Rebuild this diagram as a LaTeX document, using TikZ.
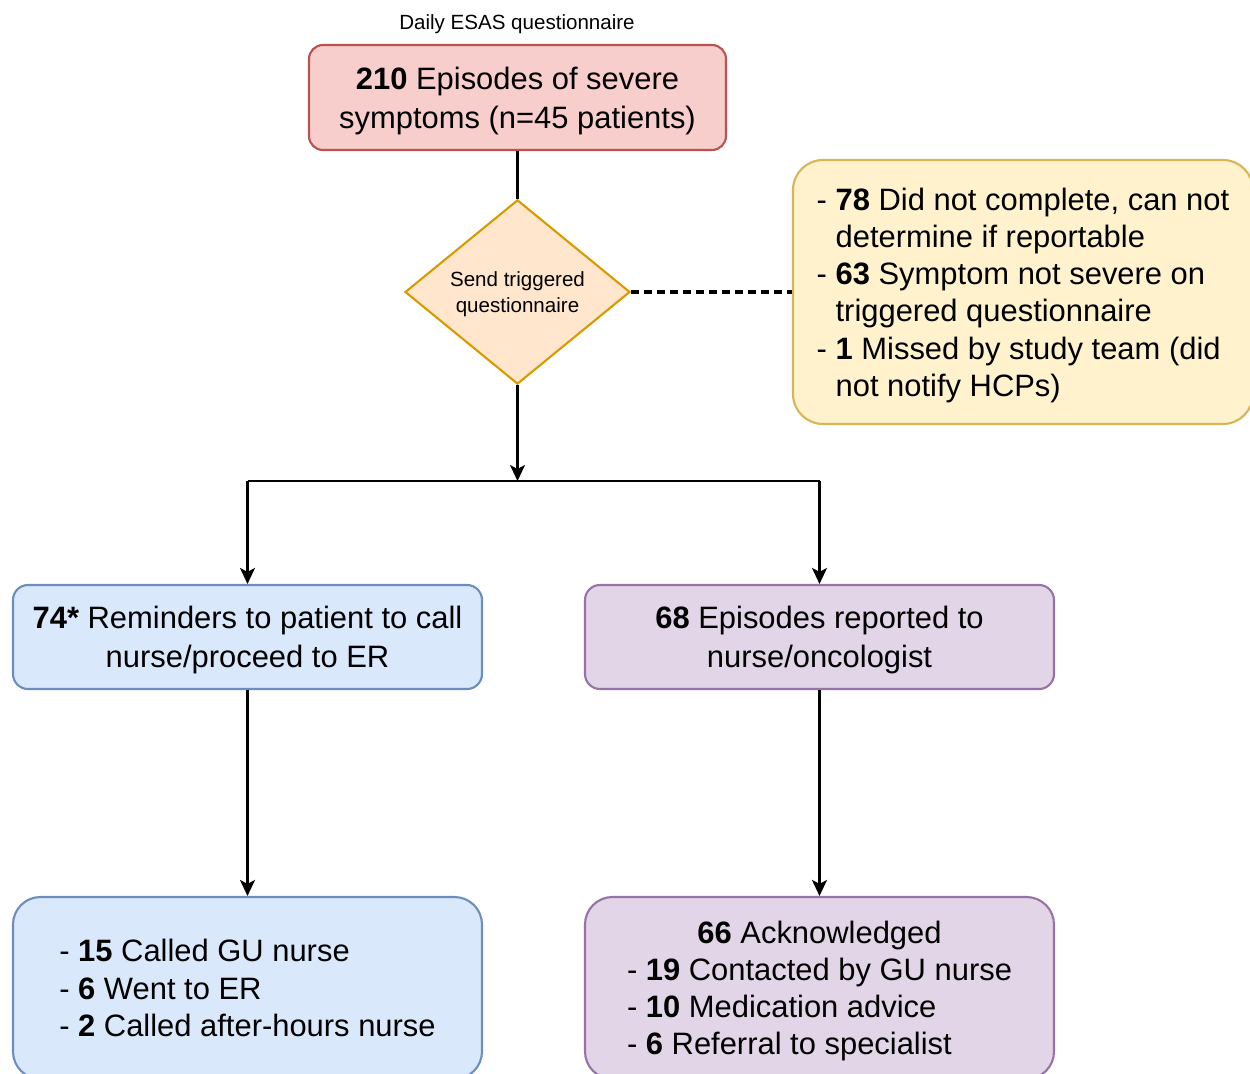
\documentclass[tikz,border=0pt]{standalone}
\usepackage{fontspec}
\setmainfont{Liberation Sans}
\usetikzlibrary{shapes.geometric,arrows.meta}
\definecolor{redf}{HTML}{F8CECC}\definecolor{reds}{HTML}{B85450}
\definecolor{orf}{HTML}{FFE6CC}\definecolor{ors}{HTML}{D79B00}
\definecolor{yef}{HTML}{FFF2CC}\definecolor{yes}{HTML}{D6B656}
\definecolor{blf}{HTML}{DAE8FC}\definecolor{bls}{HTML}{6C8EBF}
\definecolor{puf}{HTML}{E1D5E7}\definecolor{pus}{HTML}{9673A6}
\def\P{0.02cm}
\newcommand{\bigfont}{\fontsize{17.6}{22.1}\selectfont}
\newcommand{\listfont}{\fontsize{17.6}{21.2}\selectfont}
\newcommand{\smallfont}{\fontsize{11.7}{14.7}\selectfont}
\newcommand{\ind}{\hphantom{-\ }}
\newcommand{\up}{\rule{0pt}{16.5pt}}
\tikzset{
  box/.style={draw, line width=1.2pt, inner sep=0pt, align=center, font=\bigfont},
  arr/.style={line width=1.4pt, -{Stealth[length=0.32cm,width=0.3cm,inset=0.08cm]}},
  conn/.style={line width=1.4pt},
}
\begin{document}
\begin{tikzpicture}[x=0.02cm,y=-0.02cm]
\useasboundingbox (0,0) rectangle (1250,1074);
\node[font=\smallfont] (lbl) at (517,24) {Daily ESAS questionnaire};
\node[box, fill=redf, draw=reds, rounded corners=0.28cm, minimum width={417*\P}, minimum height={105*\P}] (top) at (517.5,97.5)
  {\up\textbf{210} Episodes of severe\\symptoms (n=45 patients)};
\node[diamond, draw=ors, fill=orf, line width=1.2pt, inner sep=0pt, minimum width={225*\P}, minimum height={182*\P}, align=center, font=\smallfont] (dia) at (517.5,292)
  {\rule{0pt}{11pt}Send triggered\\questionnaire};
\node[box, fill=yef, draw=yes, rounded corners=0.6cm, minimum width={460*\P}, minimum height={264*\P}, align=left, font=\listfont] (rb) at (1023,292)
  {\up- \textbf{78} Did not complete, can not\\ \ind determine if reportable\\
   - \textbf{63} Symptom not severe on\\ \ind triggered questionnaire\\
   - \textbf{1} Missed by study team (did\\ \ind not notify HCPs)};
\node[box, fill=blf, draw=bls, rounded corners=0.3cm, minimum width={469*\P}, minimum height={104*\P}] (m1) at (247.5,637)
  {\up\textbf{74*} Reminders to patient to call\\nurse/proceed to ER};
\node[box, fill=puf, draw=pus, rounded corners=0.3cm, minimum width={469*\P}, minimum height={104*\P}] (m2) at (819.5,637)
  {\up\textbf{68} Episodes reported to\\nurse/oncologist};
\node[box, fill=blf, draw=bls, rounded corners=0.55cm, minimum width={469*\P}, minimum height={182*\P}, align=left, font=\listfont] (b1) at (247.5,988)
  {- \textbf{15} Called GU nurse\\- \textbf{6} Went to ER\\- \textbf{2} Called after-hours nurse};
\node[box, fill=puf, draw=pus, rounded corners=0.55cm, minimum width={469*\P}, minimum height={182*\P}, font=\listfont] (b2) at (819.5,988)
  {\begin{tabular}{@{}l@{}}\multicolumn{1}{@{}c@{}}{\rule{0pt}{19pt}\textbf{66} Acknowledged}\\
   - \textbf{19} Contacted by GU nurse\\- \textbf{10} Medication advice\\- \textbf{6} Referral to specialist\end{tabular}};
\coordinate (j) at (517.5,481);
\coordinate (jl) at (247.5,481);
\coordinate (jr) at (819.5,481);
\draw[conn] (top.south) -- (dia.north);
\draw[conn, line width=2pt, dash pattern=on 0.16cm off 0.1cm] (dia.east) -- (rb.west);
\draw[arr] (dia.south) -- (j);
\draw[conn] (jl) -- (jr);
\draw[arr] (jl) -- (m1.north);
\draw[arr] (jr) -- (m2.north);
\draw[arr] (m1.south) -- (b1.north);
\draw[arr] (m2.south) -- (b2.north);
\end{tikzpicture}
\end{document}
